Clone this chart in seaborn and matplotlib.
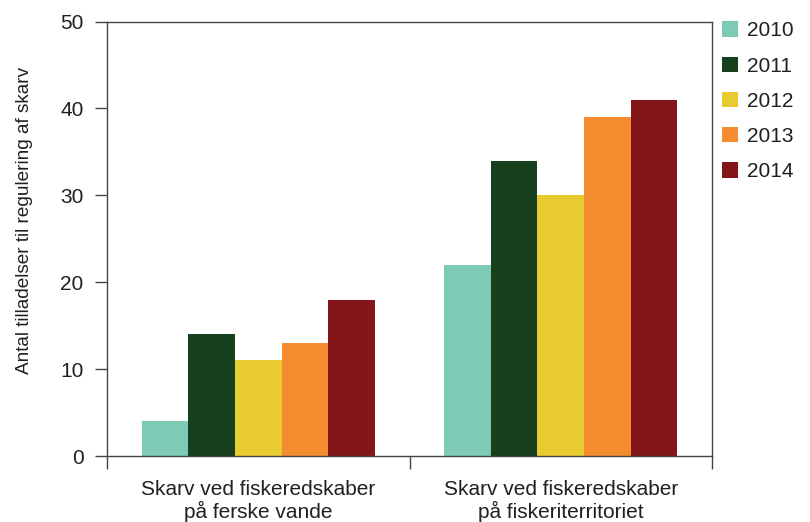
import matplotlib
matplotlib.use("Agg")
import matplotlib.pyplot as plt
import seaborn as sns
import pandas as pd
from matplotlib.patches import Patch

categories = ["Skarv ved fiskeredskaber\npå ferske vande", "Skarv ved fiskeredskaber\npå fiskeriterritoriet"]
years = ["2010", "2011", "2012", "2013", "2014"]
values_2010 = [4, 22]
values_2011 = [14, 34]
values_2012 = [11, 30]
values_2013 = [13, 39]
values_2014 = [18, 41]
colors = ["#7DCBB5", "#17401E", "#E8CB30", "#F58C30", "#841619"]
yticks = [0, 10, 20, 30, 40, 50]
ylabel = "Antal tilladelser til regulering af skarv"

series = [values_2010, values_2011, values_2012, values_2013, values_2014]
rows = []
for y, vals in zip(years, series):
    for c, v in zip(categories, vals):
        rows.append({"category": c, "year": y, "value": v})
df = pd.DataFrame(rows)

sns.set_theme(style="ticks")
plt.rcParams['font.family'] = ['Liberation Sans', 'DejaVu Sans']
txt = "#231F20"

fig = plt.figure(figsize=(8.10, 5.22), dpi=100)
ax = fig.add_axes([107/810, 1-456/522, (712-107)/810, (456-21.5)/522])
sns.barplot(data=df, x="category", y="value", hue="year", palette=colors,
            order=categories, hue_order=years, width=0.77, saturation=1,
            errorbar=None, ax=ax, legend=False, linewidth=0)

ax.set_ylim(0, 50)
ax.set_xlim(-0.5, 1.5)
ax.set_yticks(yticks)
ax.set_yticklabels([str(t) for t in yticks], fontsize=15, color=txt)
ax.set_xticks([0, 1])
ax.set_xticklabels(categories, fontsize=15, color=txt, linespacing=1.12)
ax.tick_params(axis='x', which='major', length=0, pad=17.5)
ax.set_xticks([-0.5, 0.5, 1.5], minor=True)
ax.tick_params(axis='x', which='minor', length=9, width=1, color="#444444", direction='out')
ax.tick_params(axis='y', length=9, width=1, color="#444444", direction='out', pad=8)
ax.set_xlabel("")
ax.set_ylabel(ylabel, fontsize=13.7, color=txt)
ax.yaxis.set_label_coords(-0.122, 0.541)
for s in ax.spines.values():
    s.set_visible(True)
    s.set_color("#444444")
    s.set_linewidth(1)

handles = [Patch(facecolor=c, edgecolor='none', label=y) for c, y in zip(colors, years)]
leg = fig.legend(handles=handles, loc='upper left', bbox_to_anchor=(714/810, 1-13/522),
                 frameon=False, fontsize=15, handlelength=0.75, handleheight=0.75,
                 handletextpad=0.45, labelspacing=0.78, borderaxespad=0)
for t in leg.get_texts():
    t.set_color(txt)

fig.savefig("out.png", dpi=100)
